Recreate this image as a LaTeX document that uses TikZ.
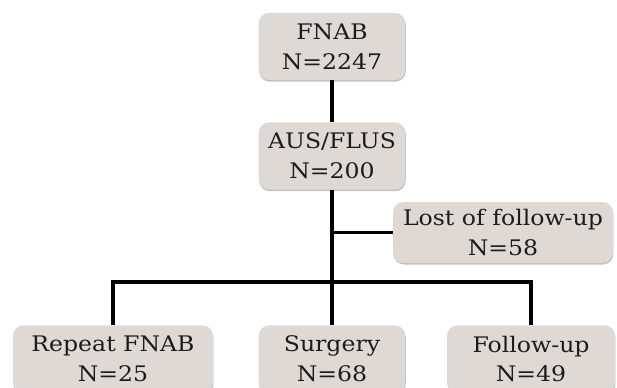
\documentclass[tikz,border=0pt]{standalone}
\usepackage{fontspec}
\setmainfont{DejaVu Serif}[FakeStretch=1.1]
\usepackage{tikz}
\usetikzlibrary{positioning}
\usetikzlibrary{shadows}
\definecolor{boxgray}{RGB}{223,217,213}
\definecolor{textgray}{RGB}{28,28,28}
\tikzstyle{stepbox} = [rectangle, rounded corners=9pt, minimum width=4.4cm,
  minimum height=2.02cm, align=center, text=textgray, fill=boxgray,
  font=\fontsize{18.3}{25.6}\selectfont,
  drop shadow={shadow xshift=0.4pt, shadow yshift=-1.3pt, fill=black!55, opacity=0.45}]
\tikzstyle{link} = [line width=2.8pt, black]

\begin{document}
\begin{tikzpicture}
  \clip (0,0) rectangle (18.51,-11.64);
  \node (fnab) [stepbox] at (9.96,-1.395) {FNAB\\N=2247};
  \node (aus) [stepbox, below of=fnab, node distance=3.285cm] {AUS/FLUS\\N=200};
  \node (lost) [stepbox, right of=aus, node distance=5.13cm, yshift=-2.295cm,
    minimum width=6.6cm, minimum height=1.83cm] {Lost of follow-up\\N=58};
  \node (surg) [stepbox, below of=aus, node distance=6.09cm] {Surgery\\N=68};
  % bottom row sits left and right of the surgery box
  \node (rep) [stepbox, left of=surg, node distance=6.57cm, minimum width=6.0cm] {Repeat FNAB\\N=25};
  \node (fup) [stepbox, right of=surg, node distance=5.97cm, minimum width=5.04cm] {Follow-up\\N=49};
  \coordinate (split) at (9.96,-8.46);
  \draw [link] (fnab) -- (aus);
  \draw [link] (aus) -- (surg);
  \draw [link] (lost.west) -- (aus |- lost.west);
  \draw [link] (rep.north) |- (split) -| (fup.north);
\end{tikzpicture}
\end{document}
